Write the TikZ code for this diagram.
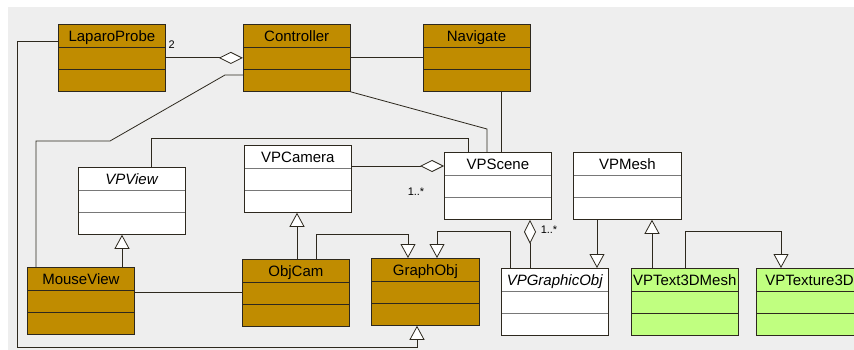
\documentclass[tikz,border=0pt]{standalone}
\usepackage{fontspec}
\setmainfont{Liberation Sans}
\usetikzlibrary{positioning,arrows.meta}
\definecolor{umlgold}{RGB}{192,140,0}
\definecolor{umlgreen}{RGB}{192,255,128}
\definecolor{umlback}{RGB}{238,238,238}
\definecolor{umlline}{RGB}{45,40,30}
\definecolor{umlsep}{RGB}{120,120,120}

\begin{document}
\begin{tikzpicture}[x=1pt, y=-1pt, thick,
    class node/.style={draw=umlline, anchor=north west, inner sep=0pt,
      minimum width=107pt, text height=17pt, text depth=50pt,
      font=\fontsize{15}{17}\selectfont, sep color=umlline,
      path picture={
        \draw[draw=\sepcolor] ([yshift=-23pt]path picture bounding box.north west)
          -- ([yshift=-23pt]path picture bounding box.north east);
        \draw[draw=\sepcolor] ([yshift=-45pt]path picture bounding box.north west)
          -- ([yshift=-45pt]path picture bounding box.north east);}},
    sep color/.code={\def\sepcolor{#1}},
    gold node/.style={class node, fill=umlgold},
    plain node/.style={class node, fill=white, sep color=umlsep},
    green node/.style={class node, fill=umlgreen},
    assoc/.style={draw=umlline},
    gen/.style={draw=umlline, -{Triangle[width=15pt, length=14pt, fill=white]}},
    agg/.style={draw=umlline, {Diamond[width=12pt, length=24pt, fill=white]}-},
    mult/.style={font=\fontsize{11}{13}\selectfont, inner sep=1pt}]

  \useasboundingbox (0,0) rectangle (854,350);
  \clip (0,0) rectangle (854,350);
  \fill[umlback] (8,7) rectangle (854,350);

  % top row
  \node[gold node] (laparo) at (58,24) {LaparoProbe};
  \node[gold node] (controller) [right=77pt of laparo] {Controller};
  \node[gold node] (navigate) [right=72pt of controller] {Navigate};

  % middle row
  \node[plain node] (vpview) at (78,167) {\textit{VPView}};
  \node[plain node] (vpcamera) at (244,145) {VPCamera};
  \node[plain node] (vpscene) at (444,152) {VPScene};
  \node[plain node, minimum width=108pt] (vpmesh) at (573,152) {VPMesh};

  % bottom row
  \node[gold node] (mouseview) at (27,267) {MouseView};
  \node[gold node] (objcam) at (242,259) {ObjCam};
  \node[gold node, minimum width=108pt] (graphobj) at (371,258) {GraphObj};
  \node[plain node] (vpgraphicobj) at (501,268) {\textit{VPGraphicObj}};
  \node[green node] (vptext) [right=22pt of vpgraphicobj] {VPText3DMesh};
  \node[green node] (vptexture) [right=17pt of vptext] {VPTexture3D};

  % associations
  \draw[agg] (controller.west) -- (laparo.east)
    node[mult, at end, xshift=6pt, yshift=13pt] {2};
  \draw[assoc] (controller) -- (navigate);
  \draw[assoc] (controller.west |- 0,75) -- (225,75) -- (110,141)
    -| (mouseview.north -| 36,0);
  \draw[assoc] (controller.south east) -- (487,129) -- (vpscene.north -| 487,0);
  \draw[assoc] (navigate.south -| 501,0) -- (vpscene.north -| 501,0);
  \draw[assoc] (vpview.north -| 151,0) |- (468,138) -- (vpscene.north -| 468,0);
  \draw[agg] (vpscene.west |- 0,166) -- (vpcamera.east |- 0,166)
    node[mult, at start, xshift=-28pt, yshift=-26pt] {1..*};
  \draw[agg] (vpscene.south -| 530,0) -- (vpgraphicobj.north -| 530,0)
    node[mult, at start, xshift=19pt, yshift=-10pt] {1..*};
  \draw[assoc] (mouseview.east |- 0,292) -- (objcam.west |- 0,292);

  % generalizations
  \draw[gen] (laparo.west |- 0,41) -| (17,347) -| (graphobj.south -| 417,0);
  \draw[gen] (mouseview.north -| 122,0) -- (vpview.south -| 122,0);
  \draw[gen] (objcam.north -| 297,0) -- (vpcamera.south -| 297,0);
  \draw[gen] (objcam.north -| 316,0) |- (408,234) -- (graphobj.north -| 408,0);
  \draw[gen] (vpgraphicobj.north -| 510,0) |- (437,231) -- (graphobj.north -| 437,0);
  \draw[gen] (vpmesh.south -| 597,0) -- (vpgraphicobj.north -| 597,0);
  \draw[gen] (vptext.north -| 652,0) -- (vpmesh.south -| 652,0);
  \draw[gen] (vptext.north -| 685,0) |- (781,231) -- (vptexture.north -| 781,0);
\end{tikzpicture}
\end{document}
